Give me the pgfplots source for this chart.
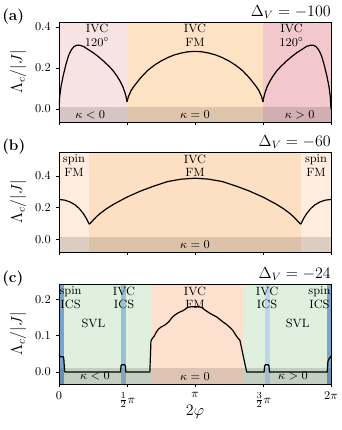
\documentclass[border=0pt]{standalone}
\usepackage{pgfplots}
\pgfplotsset{compat=1.18}
\definecolor{pinkL}{RGB}{247,227,227}
\definecolor{pinkR}{RGB}{242,200,204}
\definecolor{orA}{RGB}{254,226,196}
\definecolor{spinFM}{RGB}{254,236,222}
\definecolor{orB}{RGB}{253,223,195}
\definecolor{svl}{RGB}{223,240,222}
\definecolor{orC}{RGB}{253,224,205}
\definecolor{spinICS}{RGB}{120,165,205}
\definecolor{ivcICSL}{RGB}{150,192,212}
\definecolor{ivcICSR}{RGB}{190,214,236}
\newcommand{\sm}{\fontsize{9}{10.2}\selectfont}
\newcommand{\tk}{\fontsize{9.5}{10}\selectfont}
\newcommand{\lb}{\fontsize{11.5}{12}\selectfont}
\pgfplotsset{
  panel/.style={
    width=204pt, height=75pt, scale only axis,
    xmin=0, xmax=2, axis on top,
    xtick={0,0.5,1,1.5,2},
    xtick pos=bottom, ytick pos=left,
    tick align=outside,
    major tick length=2.6pt,
    every tick/.style={black, line width=0.6pt},
    axis line style={line width=0.6pt},
    tick label style={font=\tk},
    yticklabel style={/pgf/number format/fixed, /pgf/number format/fixed zerofill, /pgf/number format/precision=1},
    ylabel={$\Lambda_c/|J|$},
    ylabel style={at={(axis description cs:-0.15,0.5)}, anchor=center, font=\lb},
    clip mode=individual,
  },
  band/.style={fill=black, fill opacity=0.13, draw=none},
  curve/.style={black, line width=0.9pt, no marks},
}
\begin{document}
\begin{tikzpicture}
\path[use as bounding box] (0,0) rectangle (256.5pt,-322.5pt);
% ---------------- (a)
\begin{axis}[panel, at={(44.25pt,-16.5pt)}, anchor=north west,
  ymin=-0.063, ymax=0.424, ytick={0,0.2,0.4}, xticklabels={}]
\addplot[fill=pinkL, draw=none] coordinates {(0,-1) (0,1) (0.5,1) (0.5,-1)} -- cycle;
\addplot[fill=orA, draw=none] coordinates {(0.5,-1) (0.5,1) (1.5,1) (1.5,-1)} -- cycle;
\addplot[fill=pinkR, draw=none] coordinates {(1.5,-1) (1.5,1) (2,1) (2,-1)} -- cycle;
\addplot[band] coordinates {(0,-1) (0,0.01) (0.5,0.01) (0.5,-1)} -- cycle;
\addplot[band] coordinates {(0.5,-1) (0.5,0.01) (1.5,0.01) (1.5,-1)} -- cycle;
\addplot[band] coordinates {(1.5,-1) (1.5,0.01) (2,0.01) (2,-1)} -- cycle;
\addplot[curve] coordinates {(0,0) (0.005,0.06) (0.015,0.11) (0.03,0.16) (0.05,0.215) (0.07,0.26) (0.09,0.288) (0.11,0.304) (0.13,0.311) (0.15,0.311) (0.18,0.305) (0.21,0.292) (0.25,0.275) (0.29,0.255) (0.33,0.232) (0.37,0.207) (0.40,0.185) (0.43,0.157) (0.45,0.135) (0.47,0.108) (0.485,0.08) (0.495,0.055) (0.5,0.035)};
\addplot[curve] coordinates {(0.5,0.035) (0.51,0.06) (0.53,0.09) (0.55,0.11) (0.6,0.152) (0.65,0.187) (0.7,0.213) (0.75,0.234) (0.8,0.251) (0.85,0.264) (0.9,0.273) (0.95,0.279) (1.0,0.281) (1.05,0.279) (1.1,0.273) (1.15,0.264) (1.2,0.251) (1.25,0.234) (1.3,0.213) (1.35,0.187) (1.4,0.152) (1.45,0.11) (1.47,0.09) (1.49,0.06) (1.5,0.035)};
\addplot[curve] coordinates {(1.5,0.035) (1.505,0.055) (1.515,0.08) (1.53,0.108) (1.55,0.135) (1.57,0.157) (1.60,0.185) (1.63,0.207) (1.67,0.232) (1.71,0.255) (1.75,0.275) (1.79,0.292) (1.82,0.305) (1.85,0.311) (1.87,0.311) (1.89,0.304) (1.91,0.288) (1.93,0.26) (1.95,0.215) (1.97,0.16) (1.985,0.11) (1.995,0.06) (2,0)};
\node[font=\sm, align=center, anchor=north, inner sep=1pt] at (axis cs:0.28,0.42) {IVC\\120$^\circ$};
\node[font=\sm, align=center, anchor=north, inner sep=1pt] at (axis cs:1,0.42) {IVC\\FM};
\node[font=\sm, align=center, anchor=north, inner sep=1pt] at (axis cs:1.71,0.42) {IVC\\120$^\circ$};
\node[font=\sm] at (axis cs:0.23,-0.027) {$\kappa<0$};
\node[font=\sm] at (axis cs:1,-0.027) {$\kappa=0$};
\node[font=\sm] at (axis cs:1.77,-0.027) {$\kappa>0$};
\node[anchor=base east, inner sep=0pt, font=\lb] at ([yshift=4.5pt]rel axis cs:1,1) {$\Delta_V=-100$};
\node[anchor=base west, inner sep=0pt, font=\lb\bfseries] at ([xshift=-42.75pt,yshift=1.5pt]rel axis cs:0,1) {(a)};
\end{axis}
% ---------------- (b)
\begin{axis}[panel, at={(44.25pt,-114pt)}, anchor=north west,
  ymin=-0.078, ymax=0.552, ytick={0,0.2,0.4}, xticklabels={}]
\addplot[fill=spinFM, draw=none] coordinates {(0,-1) (0,1) (0.223,1) (0.223,-1)} -- cycle;
\addplot[fill=orB, draw=none] coordinates {(0.223,-1) (0.223,1) (1.777,1) (1.777,-1)} -- cycle;
\addplot[fill=spinFM, draw=none] coordinates {(1.777,-1) (1.777,1) (2,1) (2,-1)} -- cycle;
\addplot[band] coordinates {(0,-1) (0,0.015) (2,0.015) (2,-1)} -- cycle;
\addplot[curve] coordinates {(0,0.253) (0.04,0.249) (0.08,0.238) (0.12,0.218) (0.15,0.195) (0.18,0.163) (0.2,0.135) (0.215,0.11) (0.223,0.097)};
\addplot[curve] coordinates {(0.223,0.097) (0.24,0.112) (0.27,0.14) (0.3,0.163) (0.35,0.195) (0.4,0.222) (0.5,0.268) (0.6,0.306) (0.7,0.338) (0.8,0.366) (0.9,0.381) (1.0,0.387) (1.1,0.381) (1.2,0.366) (1.3,0.338) (1.4,0.306) (1.5,0.268) (1.6,0.222) (1.65,0.195) (1.7,0.163) (1.73,0.14) (1.76,0.112) (1.777,0.097)};
\addplot[curve] coordinates {(1.777,0.097) (1.785,0.11) (1.8,0.135) (1.82,0.163) (1.85,0.195) (1.88,0.218) (1.92,0.238) (1.96,0.249) (2,0.253)};
\node[font=\sm, align=center, anchor=north, inner sep=1pt] at (axis cs:0.11,0.545) {spin\\FM};
\node[font=\sm, align=center, anchor=north, inner sep=1pt] at (axis cs:1,0.545) {IVC\\FM};
\node[font=\sm, align=center, anchor=north, inner sep=1pt] at (axis cs:1.89,0.545) {spin\\FM};
\node[font=\sm] at (axis cs:1,-0.032) {$\kappa=0$};
\node[anchor=base east, inner sep=0pt, font=\lb] at ([yshift=4.5pt]rel axis cs:1,1) {$\Delta_V=-60$};
\node[anchor=base west, inner sep=0pt, font=\lb\bfseries] at ([xshift=-42.75pt,yshift=1.5pt]rel axis cs:0,1) {(b)};
\end{axis}
% ---------------- (c)
\begin{axis}[panel, at={(44.25pt,-213pt)}, anchor=north west,
  ymin=-0.033, ymax=0.243, ytick={0,0.1,0.2},
  xticklabels={$0$,$\frac{1}{2}\pi$,$\pi$,$\frac{3}{2}\pi$,$2\pi$},
  xlabel={$2\varphi$},
  xlabel style={at={(axis description cs:0.5,-0.28)}, anchor=center, font=\lb}]
\addplot[fill=svl, draw=none] coordinates {(0,-1) (0,1) (2,1) (2,-1)} -- cycle;
\addplot[fill=spinICS, draw=none] coordinates {(0,-1) (0,1) (0.039,1) (0.039,-1)} -- cycle;
\addplot[fill=ivcICSL, draw=none] coordinates {(0.453,-1) (0.453,1) (0.49,1) (0.49,-1)} -- cycle;
\addplot[fill=orC, draw=none] coordinates {(0.675,-1) (0.675,1) (1.355,1) (1.355,-1)} -- cycle;
\addplot[fill=ivcICSR, draw=none] coordinates {(1.512,-1) (1.512,1) (1.548,1) (1.548,-1)} -- cycle;
\addplot[fill=spinICS, draw=none] coordinates {(1.973,-1) (1.973,1) (2,1) (2,-1)} -- cycle;
\addplot[band] coordinates {(0,-1) (0,0.01) (0.675,0.01) (0.675,-1)} -- cycle;
\addplot[band] coordinates {(0.675,-1) (0.675,0.01) (1.355,0.01) (1.355,-1)} -- cycle;
\addplot[band] coordinates {(1.355,-1) (1.355,0.01) (2,0.01) (2,-1)} -- cycle;
\addplot[curve] coordinates {(0,0.052) (0.005,0.044) (0.012,0.042) (0.03,0.042) (0.035,0.038) (0.041,0.003) (0.045,0) (0.452,0) (0.456,0.017) (0.462,0.02) (0.482,0.02) (0.488,0.017) (0.492,0) (0.668,0) (0.676,0.085) (0.685,0.092) (0.70,0.099) (0.715,0.11) (0.73,0.118) (0.75,0.124) (0.77,0.128) (0.79,0.133) (0.81,0.14) (0.83,0.15) (0.85,0.157) (0.87,0.162) (0.89,0.166) (0.91,0.169) (0.93,0.174) (0.95,0.179) (0.97,0.18) (1.0,0.18) (1.03,0.18) (1.05,0.178) (1.07,0.172) (1.09,0.167) (1.11,0.162) (1.13,0.158) (1.16,0.152) (1.18,0.146) (1.21,0.137) (1.23,0.132) (1.26,0.122) (1.28,0.114) (1.30,0.102) (1.315,0.094) (1.33,0.088) (1.38,0) (1.508,0) (1.512,0.017) (1.518,0.02) (1.538,0.02) (1.544,0.017) (1.548,0) (1.972,0) (1.978,0.03) (1.988,0.038) (1.995,0.04) (2,0.045)};
\node[font=\sm, align=center, anchor=north, inner sep=1pt] at (axis cs:0.085,0.24) {spin\\ICS};
\node[font=\sm, align=center, anchor=north, inner sep=1pt] at (axis cs:0.478,0.24) {IVC\\ICS};
\node[font=\sm, align=center, anchor=north, inner sep=1pt] at (axis cs:1,0.24) {IVC\\FM};
\node[font=\sm, align=center, anchor=north, inner sep=1pt] at (axis cs:1.53,0.24) {IVC\\ICS};
\node[font=\sm, align=center, anchor=north, inner sep=1pt] at (axis cs:1.915,0.24) {spin\\ICS};
\node[font=\sm] at (axis cs:0.254,0.134) {SVL};
\node[font=\sm] at (axis cs:1.755,0.134) {SVL};
\node[font=\sm] at (axis cs:0.265,-0.012) {$\kappa<0$};
\node[font=\sm] at (axis cs:1,-0.012) {$\kappa=0$};
\node[font=\sm] at (axis cs:1.72,-0.012) {$\kappa>0$};
\node[anchor=base east, inner sep=0pt, font=\lb] at ([yshift=4.5pt]rel axis cs:1,1) {$\Delta_V=-24$};
\node[anchor=base west, inner sep=0pt, font=\lb\bfseries] at ([xshift=-42.75pt,yshift=1.5pt]rel axis cs:0,1) {(c)};
\end{axis}
\end{tikzpicture}
\end{document}
